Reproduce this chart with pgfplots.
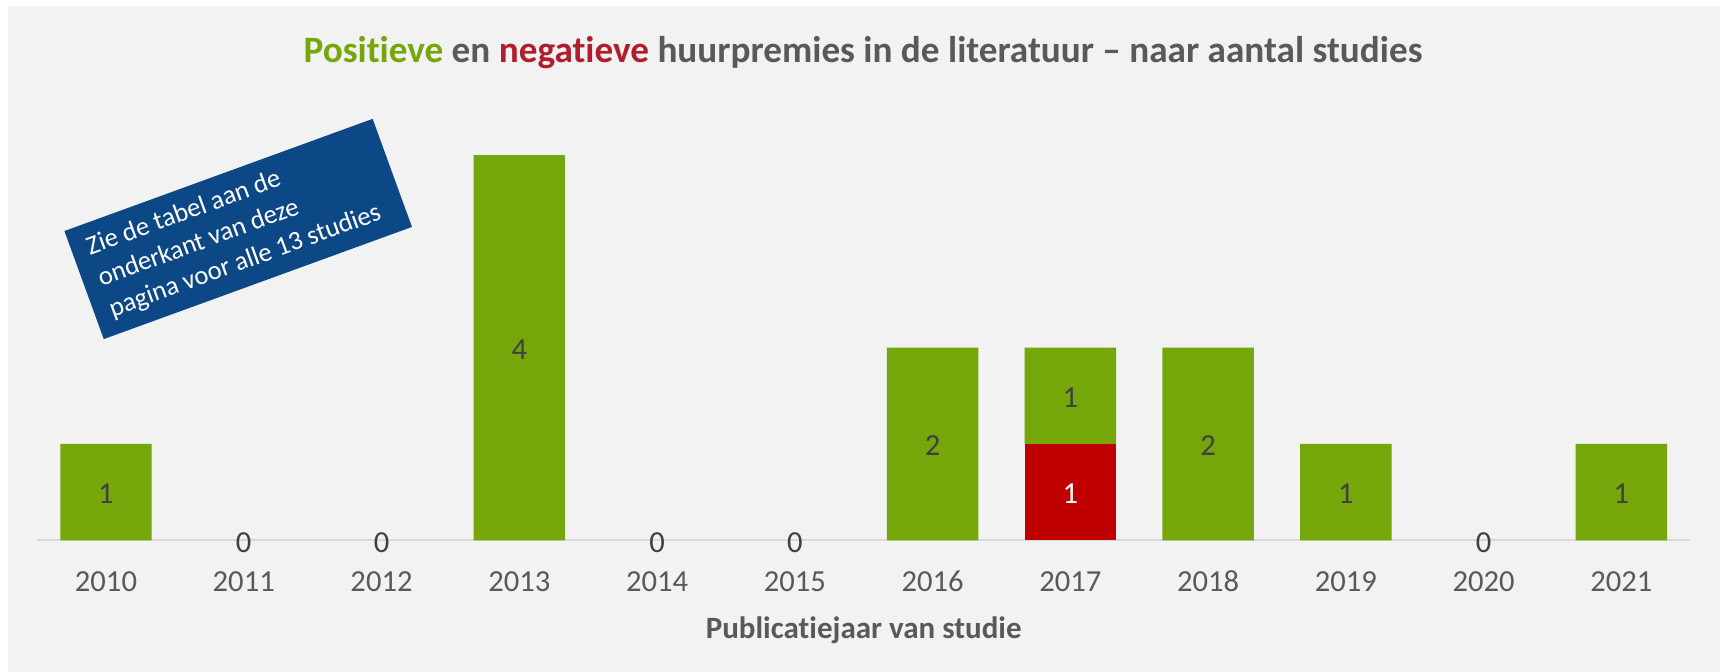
\documentclass[border=0pt]{standalone}
\usepackage{fontspec}
\setmainfont{Carlito}[Ligatures=NoCommon]
\usepackage{pgfplots}
\pgfplotsset{compat=1.18}
\definecolor{bargreen}{RGB}{117,166,10}
\definecolor{barred}{RGB}{192,0,0}
\definecolor{titlered}{RGB}{176,30,45}
\definecolor{textgray}{RGB}{89,89,89}
\definecolor{labelgray}{RGB}{64,64,64}
\definecolor{axisgray}{RGB}{217,217,217}
\definecolor{bggray}{RGB}{242,242,242}
\definecolor{boxblue}{RGB}{12,72,134}
\begin{document}
\begin{tikzpicture}
\useasboundingbox (0,0) rectangle (863pt,336pt);
\fill[white] (0,0) rectangle (863pt,336pt);
\fill[bggray] (4pt,0) rectangle (860pt,333pt);
% bars
\begin{axis}[
  at={(18.55pt,65.85pt)}, anchor=south west,
  scale only axis, width=826.6pt, height=216.7pt,
  xmin=-0.5, xmax=11.5, ymin=0, ymax=4.5,
  ybar stacked, bar width=45.7pt,
  axis x line*=bottom, axis y line=none,
  x axis line style={draw=axisgray, line width=1pt, -},
  xtick={0,...,11},
  xticklabels={2010,2011,2012,2013,2014,2015,2016,2017,2018,2019,2020,2021},
  xtick style={draw=none}, major tick length=0pt,
  xticklabel style={font=\fontsize{15.3}{18}\selectfont, text=textgray, anchor=base, yshift=-25.7pt},
  /pgf/number format/assume math mode=true,
  xlabel={Publicatiejaar van studie},
  xlabel style={at={(axis description cs:0.5,0)}, anchor=base, yshift=-49.35pt,
    font=\fontsize{15.5}{18}\selectfont\bfseries, text=textgray},
]
% negatieve huurpremies (onderste segment)
\addplot[fill=barred, draw=none] coordinates
  {(0,0) (1,0) (2,0) (3,0) (4,0) (5,0) (6,0) (7,1) (8,0) (9,0) (10,0) (11,0)};
% positieve huurpremies
\addplot[fill=bargreen, draw=none] coordinates
  {(0,1) (1,0) (2,0) (3,4) (4,0) (5,0) (6,2) (7,1) (8,2) (9,1) (10,0) (11,1)};
\end{axis}
% data labels
\begin{axis}[
  at={(18.55pt,65.85pt)}, anchor=south west,
  scale only axis, width=826.6pt, height=216.7pt,
  xmin=-0.5, xmax=11.5, ymin=0, ymax=4.5,
  hide axis, clip=false,
  nodes near coords, point meta=explicit symbolic,
  every node near coord/.append style={anchor=center, yshift=-1pt,
    font=\fontsize{15.3}{18}\selectfont},
]
\addplot[only marks, mark=*, mark size=0pt, mark options={draw=none,fill=none},
  every node near coord/.append style={text=labelgray}] coordinates
  {(0,0.5) [1] (3,2) [4] (6,1) [2] (7,1.5) [1] (8,1) [2] (9,0.5) [1] (11,0.5) [1]
   (1,0) [0] (2,0) [0] (4,0) [0] (5,0) [0] (10,0) [0]};
\addplot[only marks, mark=*, mark size=0pt, mark options={draw=none,fill=none},
  every node near coord/.append style={text=white}] coordinates
  {(7,0.5) [1]};
\end{axis}
% title
\node[anchor=base, font=\fontsize{18.6}{22}\selectfont\bfseries, text=textgray]
  at (431.5pt,304.85pt)
  {\textcolor{bargreen}{Positieve} en \textcolor{titlered}{negatieve} huurpremies in de literatuur -- naar aantal studies};
% annotation
\node[rotate=20, fill=boxblue, minimum width=164pt, minimum height=57.5pt,
  inner sep=0pt] (box) at (119.1pt,221.5pt) {};
\node[rotate=20, anchor=west, text=white, inner sep=0pt, align=left,
  font=\fontsize{13.3}{16.5}\selectfont] at ([shift={(20:8pt)}]box.west)
  {Zie de tabel aan de\\onderkant van deze\\pagina voor alle 13 studies};
\end{tikzpicture}
\end{document}
